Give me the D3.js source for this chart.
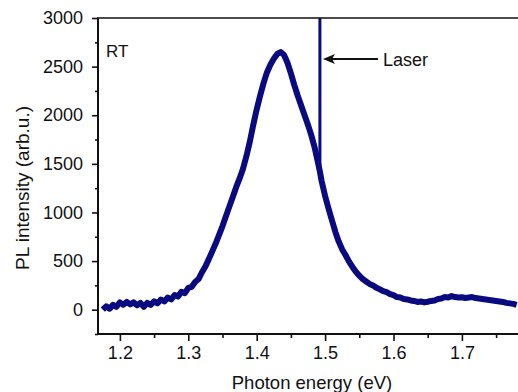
<!DOCTYPE html>
<html><head><meta charset="utf-8">
<script src="https://cdn.jsdelivr.net/npm/d3@7"></script>
<style>
body{margin:0;background:#fff;}
svg text{font-family:"Liberation Sans",Arial,Helvetica,sans-serif;fill:#111;}
</style></head>
<body><svg id="chart" width="518" height="392"></svg>
<script>
// Photon energy (eV)
const energy = [1.175,1.180,1.185,1.190,1.195,1.200,1.205,1.210,1.215,1.220,1.225,1.230,1.235,1.240,1.245,1.250,1.255,1.260,1.265,1.270,1.275,1.280,1.285,1.290,1.295,1.300,1.305,1.310,1.315,1.320,1.325,1.330,1.335,1.340,1.345,1.350,1.355,1.360,1.365,1.370,1.375,1.380,1.385,1.390,1.395,1.400,1.405,1.410,1.415,1.420,1.425,1.430,1.435,1.440,1.445,1.450,1.455,1.460,1.465,1.470,1.475,1.480,1.485,1.490,1.4924,1.495,1.500,1.505,1.510,1.515,1.520,1.525,1.530,1.535,1.540,1.545,1.550,1.555,1.560,1.565,1.570,1.575,1.580,1.585,1.590,1.595,1.600,1.605,1.610,1.615,1.620,1.625,1.630,1.635,1.640,1.645,1.650,1.655,1.660,1.665,1.670,1.675,1.680,1.685,1.690,1.695,1.700,1.705,1.710,1.715,1.720,1.725,1.730,1.735,1.740,1.745,1.750,1.755,1.760,1.765,1.770,1.775,1.780];
// PL intensity (arb.u.)
const intensity = [0,35,10,50,30,75,50,80,55,75,45,70,30,70,50,85,65,105,85,125,105,150,135,185,170,225,235,285,315,385,445,520,600,680,770,860,960,1060,1160,1260,1350,1450,1580,1730,1900,2060,2200,2330,2440,2520,2580,2630,2650,2620,2540,2430,2310,2200,2100,2000,1900,1790,1660,1500,1420,1320,1170,1040,920,800,700,620,560,495,440,390,350,315,290,265,250,225,210,190,180,160,150,130,125,110,105,95,90,80,85,75,82,90,95,110,115,130,125,140,130,125,128,120,125,130,120,115,110,105,100,95,90,85,80,70,65,60,50];
const laserEnergy = [1.4924];
const laserRange = [1420, 3200];
const xTicks = [1.2,1.3,1.4,1.5,1.6,1.7];
const xMinor = [1.25,1.35,1.45,1.55,1.65,1.75];
const yTicks = [0,500,1000,1500,2000,2500,3000];
const yMinor = [-250,250,750,1250,1750,2250,2750];

const svg = d3.select("#chart");
const L=98,R=518,T=18,B=334;
const x = d3.scaleLinear().domain([1.168,1.782]).range([L,R]);
const y = d3.scaleLinear().domain([-250,3000]).range([B,T]);
const col = "#0a0a80";

svg.append("clipPath").attr("id","clip").append("rect")
  .attr("x",L).attr("y",T).attr("width",R-L).attr("height",B-T);

const data = energy.map((e,i)=>[e,intensity[i]]);
const g = svg.append("g").attr("clip-path","url(#clip)");
g.append("path").datum(data)
  .attr("d", d3.line().x(d=>x(d[0])).y(d=>y(d[1])))
  .attr("fill","none").attr("stroke",col).attr("stroke-width",6)
  .attr("stroke-linejoin","round");
g.selectAll(".laser").data(laserEnergy).enter().append("line")
  .attr("x1",d=>x(d)).attr("x2",d=>x(d))
  .attr("y1",y(laserRange[0])).attr("y2",y(laserRange[1]))
  .attr("stroke",col).attr("stroke-width",3);

// axes
const xAxis = svg.append("g").attr("transform",`translate(0,${B})`)
  .call(d3.axisBottom(x).tickValues(xTicks).tickSize(7).tickPadding(5).tickFormat(d3.format(".1f")));
const xMin = svg.append("g").attr("transform",`translate(0,${B})`)
  .call(d3.axisBottom(x).tickValues(xMinor).tickSize(4).tickFormat(""));
const yAxis = svg.append("g").attr("transform",`translate(${L},0)`)
  .call(d3.axisLeft(y).tickValues(yTicks).tickSize(6).tickPadding(9).tickFormat(d3.format("d")));
const yMin = svg.append("g").attr("transform",`translate(${L},0)`)
  .call(d3.axisLeft(y).tickValues(yMinor).tickSize(3).tickFormat(""));
[xAxis,xMin,yAxis,yMin].forEach(a=>{
  a.select(".domain").remove();
  a.selectAll("line").attr("stroke","#111").attr("stroke-width",1.6);
  a.selectAll("text").style("font-size","18px").attr("fill","#111");
});
svg.append("line").attr("x1",L).attr("x2",R).attr("y1",B).attr("y2",B).attr("stroke","#111").attr("stroke-width",2);
svg.append("line").attr("x1",L).attr("x2",L).attr("y1",T).attr("y2",B+1).attr("stroke","#111").attr("stroke-width",2);
svg.append("line").attr("x1",L-1).attr("x2",R).attr("y1",T).attr("y2",T).attr("stroke","#111").attr("stroke-width",1.5);

// titles
svg.append("text").attr("x",312).attr("y",389).attr("text-anchor","middle")
  .style("font-size","18.5px").text("Photon energy (eV)");
svg.append("text").attr("transform","translate(29,188) rotate(-90)").attr("text-anchor","middle")
  .style("font-size","19px").text("PL intensity (arb.u.)");
svg.append("text").attr("x",106).attr("y",57).style("font-size","17px").text("RT");

// Laser annotation
svg.append("line").attr("x1",378).attr("x2",330).attr("y1",59).attr("y2",59)
  .attr("stroke","#111").attr("stroke-width",1.8);
svg.append("path").attr("d","M323,59 L335,54 L332,59 L335,64 Z").attr("fill","#111");
svg.append("text").attr("x",383).attr("y",66).style("font-size","18px").text("Laser");
</script></body></html>
